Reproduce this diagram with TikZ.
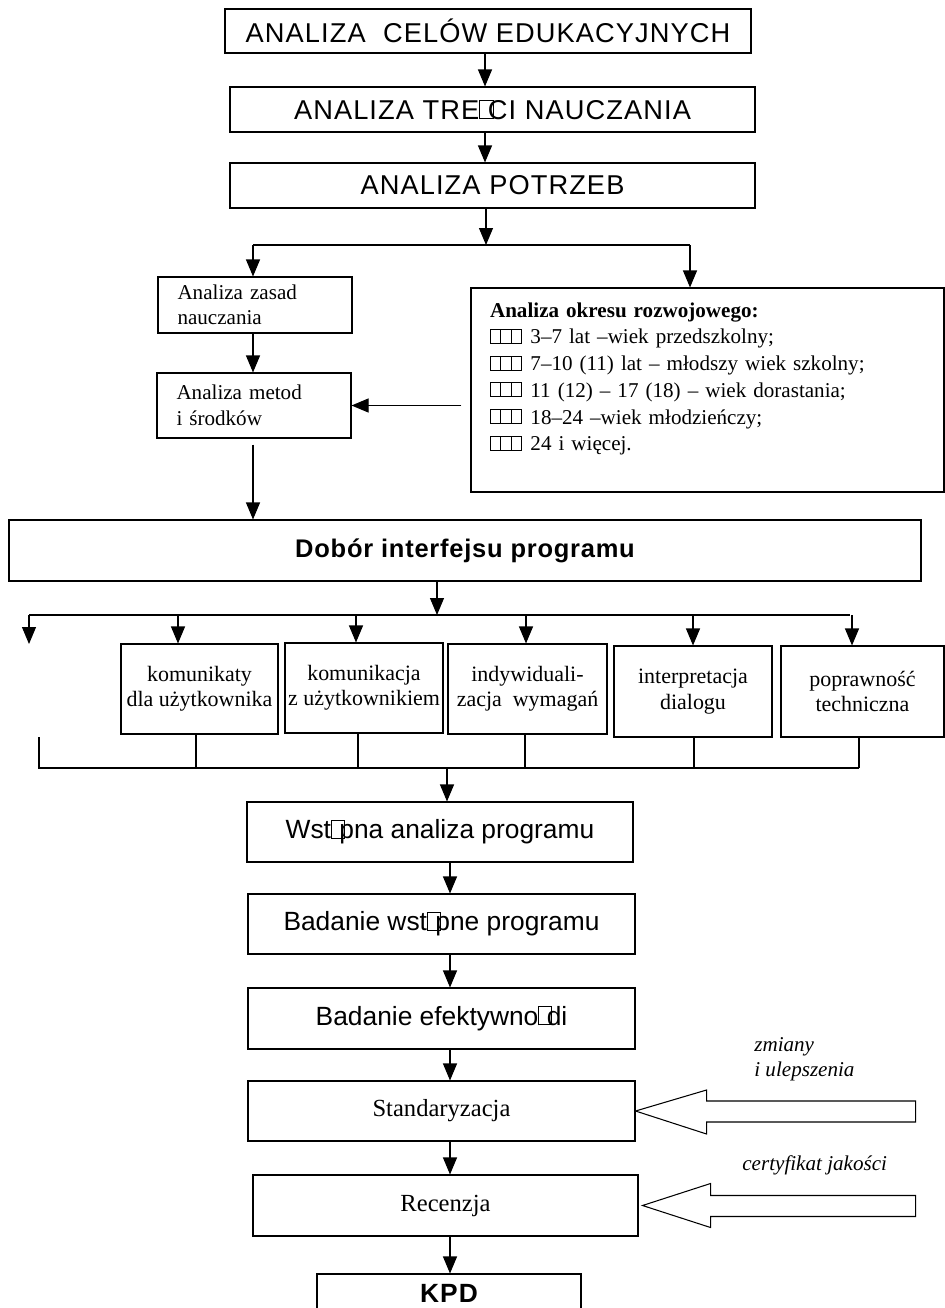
\documentclass[tikz,border=0pt]{standalone}
\usepackage{fontspec}
\setmainfont{Liberation Serif}
\newfontfamily\arialfont{Liberation Sans}
\newfontfamily\arialwide{Liberation Sans}[LetterSpace=4]
\newfontfamily\arialsemi{Liberation Sans}[LetterSpace=3]
\usetikzlibrary{arrows.meta}

% three small cells used as list markers
\newcommand{\kratki}{\leavevmode\vbox{\hrule height0.5pt\hbox{\vrule width0.5pt height0.62em\kern0.45em\vrule width0.5pt\kern0.45em\vrule width0.5pt\kern0.45em\vrule width0.5pt}\hrule height0.5pt}}
% missing glyph box
\newcommand{\brak}{\leavevmode\hbox{\vrule width0.5pt height0.72em\vbox to0.72em{\hrule width0.45em height0.5pt\vfil\hrule width0.45em height0.5pt}\vrule width0.5pt height0.72em}\kern-0.2em}

\tikzset{
  sz/.style 2 args={minimum width=#1*0.02cm, minimum height=#2*0.02cm},
  box/.style={rectangle, draw, line width=0.6pt, inner sep=0pt, align=center},
  capsbox/.style={box, font={\arialwide\fontsize{15.5pt}{18pt}\selectfont}},
  stepbox/.style={box, font={\arialfont\fontsize{15pt}{18pt}\selectfont}},
  serifbox/.style={box, font={\fontsize{#1}{14.5pt}\selectfont}},
  arr/.style={-{Triangle[length=0.34cm, width=0.28cm]}, line width=0.6pt},
  ln/.style={line width=0.6pt},
  hollow/.style={draw, line width=0.6pt, fill=white, line join=miter},
  lbl/.style={font={\itshape\fontsize{12pt}{13.7pt}\selectfont}, align=left, inner sep=0pt},
}

\begin{document}
\begin{tikzpicture}[x=0.02cm, y=-0.02cm]
  \useasboundingbox (0,0) rectangle (945,1308);
  \clip (0,0) rectangle (945,1308);

  % upper chain
  \node[capsbox, sz={526}{44}] (cele) at (488,31) {ANALIZA\ \ CELÓW EDUKACYJNYCH};
  \node[capsbox, sz={525}{45}] (tresci) at (492.5,109.5) {ANALIZA TRE\brak CI NAUCZANIA};
  \node[capsbox, sz={525}{45}] (potrzeb) at (492.5,185.5) {ANALIZA POTRZEB};

  \node[serifbox=12pt, sz={194}{56}, text width=3.1cm, align=left] (zasady) at (255,305) {Analiza zasad\\nauczania};
  \node[serifbox=12pt, sz={194}{65}, text width=3.1cm, align=left] (metody) at (254,405.5) {Analiza metod\\i środków};
  \node[box, sz={473}{204}, text width=8.7cm, align=left, font={\fontsize{12pt}{15.2pt}\selectfont}] (okres) at (707.5,390)
    {\textbf{Analiza okresu rozwojowego:}\\
     \kratki\kern0.4em 3–7 lat –wiek przedszkolny;\\
     \kratki\kern0.4em 7–10 (11) lat – młodszy wiek szkolny;\\
     \kratki\kern0.4em 11 (12) – 17 (18) – wiek dorastania;\\
     \kratki\kern0.4em 18–24 –wiek młodzieńczy;\\
     \kratki\kern0.4em 24 i więcej.\\ \mbox{}};

  \node[box, sz={912}{61}, font={\arialsemi\bfseries\fontsize{14.5pt}{17pt}\selectfont}] (dobor) at (465,550.5) {Dobór interfejsu programu};

  % interface features
  \node[serifbox=12.5pt, sz={157}{90}] (kom) at (199.5,689) {komunikaty\\dla użytkownika};
  \node[serifbox=12.5pt, sz={158}{90}] (kmc) at (364,688) {komunikacja\\z użytkownikiem};
  \node[serifbox=12.5pt, sz={159}{90}] (indyw) at (527.5,689) {indywiduali-\\zacja\ \ wymagań};
  \node[serifbox=12.5pt, sz={158}{91}] (interp) at (693,691.5) {interpretacja\\dialogu};
  \node[serifbox=12.5pt, sz={163}{91}] (popr) at (862.5,691.5) {poprawność\\techniczna};

  % lower chain
  \node[stepbox, sz={386}{60}] (wstepna) at (440,832) {Wst\brak pna analiza programu};
  \node[stepbox, sz={387}{60}] (badanie) at (441.5,924) {Badanie wst\brak pne programu};
  \node[stepbox, sz={387}{61}] (efekt) at (441.5,1018.5) {Badanie efektywno\brak di};
  \node[serifbox=14pt, sz={387}{60}] (standard) at (441.5,1111) {Standaryzacja};
  \node[serifbox=14pt, sz={385}{61}] (recenzja) at (445.5,1205.5) {Recenzja};
  \node[box, sz={264}{38}, font={\arialwide\bfseries\fontsize{15pt}{18pt}\selectfont}] (kpd) at (449,1293) {KPD};

  \node[lbl, anchor=base west] (zmiany) at (754,1076) {zmiany\\i ulepszenia};
  \node[lbl, anchor=base west] (certyf) at (742,1170) {certyfikat jakości};

  % connectors
  \coordinate (sp) at (485,0);
  \draw[arr] (cele.south -| sp) -- (tresci.north -| sp);
  \draw[arr] (tresci.south -| sp) -- (potrzeb.north -| sp);
  \coordinate (br) at (486,245);
  \coordinate (brl) at (253,245);
  \coordinate (brr) at (690,245);
  \draw[arr] (potrzeb.south -| br) -- (br);
  \draw[ln] (brl) -- (brr);
  \draw[arr] (brl) -- (zasady.north -| brl);
  \draw[arr] (brr) -- (okres.north -| brr);
  \draw[arr] (zasady.south -| brl) -- (metody.north -| brl);
  \draw[arr, shorten <=0.18cm] (okres.west |- metody.east) -- (metody.east);
  \draw[arr, shorten <=0.12cm] (metody.south -| brl) -- (dobor.north -| brl);

  \coordinate (dl) at (437,615);
  \coordinate (dlL) at (29,615);
  \coordinate (dlR) at (850,615);
  \coordinate (wolny) at (29,644);
  \draw[arr] (dobor.south -| dl) -- (dl);
  \draw[ln] (dlL) -- (dlR);
  \draw[arr] (dlL) -- (wolny);
  \foreach \xx/\nn in {178/kom, 356/kmc, 526/indyw, 693/interp, 852/popr}
    \draw[arr] (dlL -| \xx,0) -- (\nn.north -| \xx,0);

  \coordinate (mlL) at (38,768);
  \coordinate (mlR) at (859,768);
  \coordinate (wolny2) at (39,737);
  \draw[ln] (mlL) -- (mlR);
  \draw[ln] (wolny2) -- (wolny2 |- mlL);
  \foreach \xx/\nn in {196/kom, 358/kmc, 525/indyw, 694/interp, 859/popr}
    \draw[ln] (\nn.south -| \xx,0) -- (mlL -| \xx,0);

  \coordinate (ml) at (447,768);
  \coordinate (sp2) at (450,0);
  \draw[arr] (ml) -- (wstepna.north -| ml);
  \draw[arr] (wstepna.south -| sp2) -- (badanie.north -| sp2);
  \draw[arr] (badanie.south -| sp2) -- (efekt.north -| sp2);
  \draw[arr] (efekt.south -| sp2) -- (standard.north -| sp2);
  \draw[arr] (standard.south -| sp2) -- (recenzja.north -| sp2);
  \draw[arr] (recenzja.south -| sp2) -- (kpd.north -| sp2);

  % hollow input arrows
  \draw[hollow] (standard.east) -- ++(71,-21) -- ++(0,11) -- ++(209,0) -- ++(0,21)
    -- ++(-209,0) -- ++(0,12) -- cycle;
  \draw[hollow] ([xshift=0.08cm]recenzja.east) -- ++(68,-22) -- ++(0,12) -- ++(205,0) -- ++(0,21)
    -- ++(-205,0) -- ++(0,11) -- cycle;
\end{tikzpicture}
\end{document}
